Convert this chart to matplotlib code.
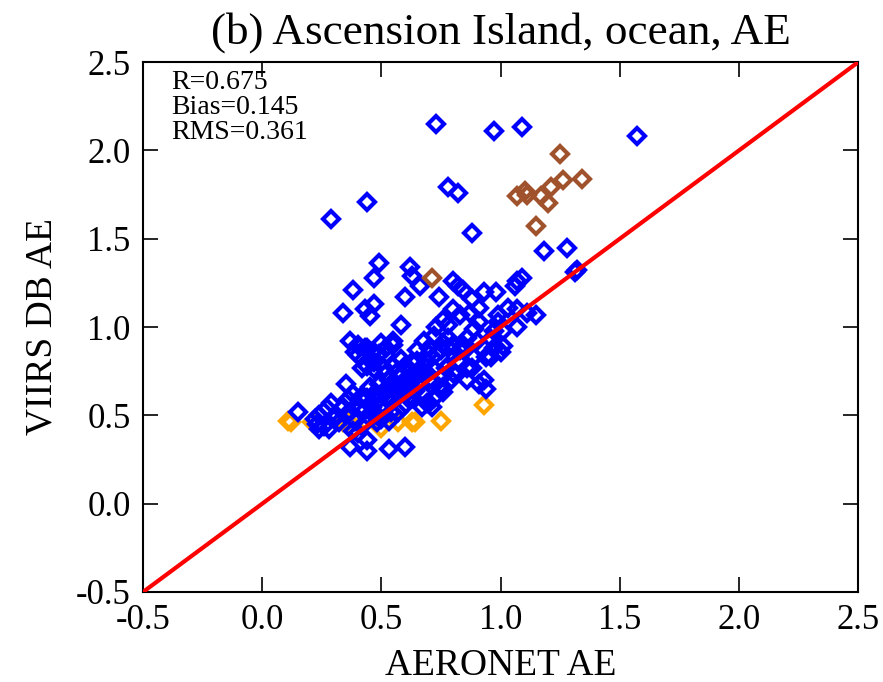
import matplotlib
matplotlib.use('Agg')
import matplotlib.pyplot as plt
import numpy as np

plt.rcParams['font.family'] = 'serif'
plt.rcParams['font.serif'] = ['Liberation Serif', 'DejaVu Serif']

# AERONET AE (x) vs VIIRS DB AE (y)
blue_x = [0.73, 0.97, 1.09, 1.57, 0.78, 0.82, 0.88, 1.18, 1.28, 1.32, 1.31,
          0.29, 0.44, 0.49, 0.47, 0.62, 0.63, 0.38, 0.66, 0.80, 0.82, 0.93, 0.98,
          1.06, 1.09, 1.07, 0.34, 0.43, 0.47, 0.45, 0.58, 0.60, 0.37, 0.39, 0.44,
          0.50, 0.55, 0.84, 0.74, 0.88, 0.91, 0.87, 0.80, 0.83, 0.76, 0.78, 0.73,
          0.91, 0.89, 0.99, 1.03, 1.07, 1.15, 0.99, 1.07, 0.97, 1.01, 1.11,
          0.78, 0.76, 0.80, 0.75, 0.83, 0.65, 0.70, 0.96, 0.97, 1.01, 0.89, 0.94,
          0.15, 0.24, 0.23, 0.28, 0.24, 0.29, 0.27, 0.34, 0.35, 0.38, 0.36, 0.41,
          0.41, 0.37, 0.31, 0.38, 0.40, 0.44, 0.37, 0.44, 0.53, 0.60, 0.40, 0.42,
          0.47, 0.51, 0.57, 0.62, 0.52, 0.65, 0.57, 0.53, 0.49,
          0.94, 0.91, 0.86, 0.96, 1.00, 0.89, 0.88, 0.79, 0.76, 0.76, 0.70, 0.67,
          0.63, 0.73, 0.77, 0.80, 0.82, 0.65, 0.69,
          0.45, 0.47, 0.48, 0.50, 0.52, 0.49, 0.51, 0.53, 0.46, 0.44, 0.43, 0.47,
          0.50, 0.54, 0.55, 0.57, 0.56, 0.58, 0.60, 0.61, 0.59, 0.62, 0.64, 0.66,
          0.68, 0.52, 0.55, 0.58, 0.60, 0.63, 0.66, 0.69, 0.72, 0.70, 0.74, 0.72,
          0.76, 0.78, 0.84, 0.86, 0.90, 0.78, 0.70, 0.68, 0.72, 0.40, 0.43, 0.46,
          0.49, 0.52, 0.55, 0.47, 0.44, 0.86, 0.93, 0.69, 0.71, 0.68, 0.65, 0.61,
          0.57, 0.54, 0.32, 0.30, 0.26, 0.22, 0.48, 0.42, 0.39, 0.35]
blue_y = [2.15, 2.11, 2.13, 2.08, 1.79, 1.76, 1.53, 1.43, 1.45, 1.32, 1.31,
          1.61, 1.71, 1.36, 1.28, 1.34, 1.29, 1.21, 1.23, 1.26, 1.23, 1.20, 1.20,
          1.23, 1.28, 1.26, 1.08, 1.10, 1.13, 1.06, 1.01, 1.17, 0.92, 0.86, 0.88,
          0.91, 0.92, 1.21, 1.17, 1.16, 1.11, 1.08, 1.10, 1.07, 1.04, 1.01, 1.00,
          1.03, 0.99, 1.07, 1.11, 1.10, 1.07, 1.03, 1.00, 0.98, 0.98, 1.08,
          0.94, 0.91, 0.90, 0.87, 0.87, 0.87, 0.85, 0.93, 0.88, 0.89, 0.83, 0.83,
          0.52, 0.50, 0.45, 0.42, 0.42, 0.57, 0.54, 0.55, 0.68, 0.62, 0.59, 0.54,
          0.60, 0.52, 0.50, 0.41, 0.40, 0.36, 0.32, 0.30, 0.31, 0.32, 0.84, 0.77,
          0.76, 0.77, 0.75, 0.75, 0.84, 0.81, 0.52, 0.47, 0.49,
          0.65, 0.68, 0.70, 0.83, 0.86, 0.83, 0.77, 0.70, 0.63, 0.66, 0.57, 0.55,
          0.60, 0.85, 0.77, 0.74, 0.81, 0.72, 0.74,
          0.66, 0.62, 0.58, 0.55, 0.60, 0.68, 0.64, 0.70, 0.55, 0.60, 0.53, 0.50,
          0.48, 0.52, 0.58, 0.63, 0.68, 0.72, 0.66, 0.60, 0.55, 0.70, 0.64, 0.68,
          0.62, 0.74, 0.78, 0.82, 0.78, 0.80, 0.76, 0.80, 0.76, 0.70, 0.66, 0.60,
          0.72, 0.78, 0.90, 0.94, 0.92, 0.88, 0.88, 0.92, 0.95, 0.90, 0.88, 0.86,
          0.85, 0.88, 0.90, 0.80, 0.78, 0.77, 0.70, 0.57, 0.55, 0.74, 0.68, 0.63,
          0.66, 0.60, 0.46, 0.48, 0.44, 0.48, 0.46, 0.44, 0.47, 0.50]

brown_x = [1.25, 1.26, 1.34, 1.21, 1.17, 1.20, 1.10, 1.07, 1.11, 1.15, 0.71]
brown_y = [1.98, 1.83, 1.84, 1.79, 1.74, 1.70, 1.77, 1.74, 1.75, 1.57, 1.28]

orange_x = [0.11, 0.12, 0.21, 0.34, 0.36, 0.43, 0.50, 0.57, 0.63, 0.64, 0.75, 0.93]
orange_y = [0.47, 0.46, 0.46, 0.46, 0.47, 0.47, 0.43, 0.46, 0.46, 0.46, 0.47, 0.56]

stats = ['R=0.675', 'Bias=0.145', 'RMS=0.361']
ticks = [-0.5, 0.0, 0.5, 1.0, 1.5, 2.0, 2.5]

fig = plt.figure(figsize=(8.83, 6.82), dpi=100)
ax = fig.add_axes([0.162, 0.132, 0.810, 0.777])

mk = dict(linestyle='none', marker='D', markersize=8.5, markerfacecolor='none',
          markeredgewidth=3.0)
ax.plot(orange_x, orange_y, color='#ffa500', **mk)
ax.plot(blue_x, blue_y, color='#0000ff', **mk)
ax.plot(brown_x, brown_y, color='#a0522d', **mk)
ax.plot([-0.5, 2.5], [-0.5, 2.5], color='red', lw=3, zorder=5)

ax.set_xlim(-0.5, 2.5)
ax.set_ylim(-0.5, 2.5)
ax.set_xticks(ticks)
ax.set_yticks(ticks)
ax.set_xticklabels(['%.1f' % t for t in ticks])
ax.set_yticklabels(['%.1f' % t for t in ticks])
ax.tick_params(direction='in', length=11, width=1.2, top=True, right=True,
               labelsize=25, pad=9)
for s in ax.spines.values():
    s.set_linewidth(1.5)

ax.set_xlabel('AERONET AE', fontsize=27, labelpad=8)
ax.set_ylabel('VIIRS DB AE', fontsize=27, labelpad=12)
ax.set_title('(b) Ascension Island, ocean, AE', fontsize=32.5, pad=13)

ax.text(0.04, 0.985, '\n'.join(stats), transform=ax.transAxes, fontsize=20,
        va='top', ha='left', linespacing=1.0)

fig.savefig('out.png', dpi=100)
